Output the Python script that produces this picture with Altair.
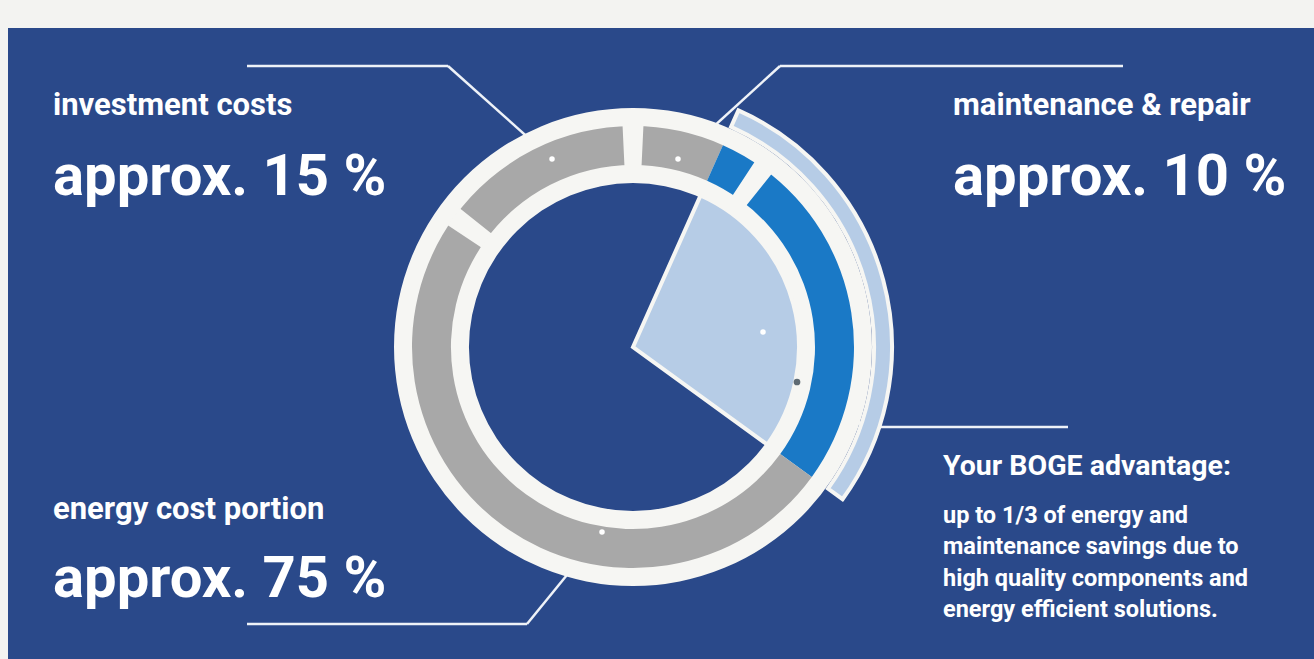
import math
import altair as alt
import pandas as pd

# ---------------- data ----------------
seg_category = ["maintenance & repair", "maintenance & repair",
                "energy cost portion", "energy cost portion", "investment costs"]
seg_part = ["remaining", "saving", "saving", "remaining", "remaining"]
seg_value = [6.67, 3.33, 25.0, 50.0, 15.0]          # percent of life-cycle costs

category_order = ["maintenance & repair", "energy cost portion", "investment costs"]
category_share = [10, 75, 15]

headline_labels = ["investment costs", "maintenance & repair", "energy cost portion"]
headline_values = ["approx. 15 %", "approx. 10 %", "approx. 75 %"]
advantage_title = "Your BOGE advantage:"
advantage_lines = ["up to 1/3 of energy and",
                   "maintenance savings due to",
                   "high quality components and",
                   "energy efficient solutions."]

# ---------------- layout / style ----------------
CX, CY = 633, 347
R_WHITE_OUT, R_SEG_OUT, R_SEG_IN, R_WHITE_IN = 239, 220, 183, 164
R_ARC_IN, R_ARC_OUT = 241, 259
GAP_HALF = 0.75
PANEL = "#2a498a"
WHITE = "#f6f6f3"
GRAY = "#a8a8a8"
BLUE = "#1a79c6"
LIGHT = "#b6cce6"
FONT = "Roboto"

head_label_xy = [(53, 115), (953, 115), (53, 519)]
head_value_xy = [(53, 195), (953, 195), (53, 597)]
adv_title_xy = (943, 475)
adv_line_x, adv_line_y0, adv_line_dy = 943, 523, 31.3

leader_segments = [  # x, y, x2, y2
    (247, 66, 448, 66), (448, 66, 552, 159),
    (1123, 66, 780, 66), (780, 66, 678, 159),
    (247, 624, 527, 624), (527, 624, 602, 532),
    (1068, 427, 864, 427), (864, 427, 763, 332),
]
leader_dots = [(552, 159), (678, 159), (602, 532), (763, 332)]
marker_dot = (797, 382)

# ---------------- tables ----------------
seg_df = pd.DataFrame({"category": seg_category, "part": seg_part, "value": seg_value})
seg_df["end"] = seg_df["value"].cumsum()
seg_df["start"] = seg_df["end"] - seg_df["value"]

bounds = [0] + list(pd.Series(category_share).cumsum()[:-1])
gap_df = pd.DataFrame({"start": [b - GAP_HALF for b in bounds], "end": [b + GAP_HALF for b in bounds]})

sav = seg_df[seg_df["part"] == "saving"]
wedge_df = pd.DataFrame({"start": [sav["start"].min()], "end": [sav["end"].max()]})
ring_df = pd.DataFrame({"start": [0], "end": [100]})

theta_scale = alt.Scale(domain=[0, 100], range=[0, 2 * math.pi])


def arc_layer(df, r_out, r_in, **mark):
    return alt.Chart(df).mark_arc(**mark).encode(
        theta=alt.Theta("start:Q", scale=theta_scale, stack=None),
        theta2="end:Q",
        x=alt.value(CX), y=alt.value(CY),
        radius=alt.value(r_out), radius2=alt.value(r_in),
    )


panel = alt.Chart(pd.DataFrame({"k": [0]})).mark_rect(color=PANEL).encode(
    x=alt.value(8), x2=alt.value(1314), y=alt.value(28), y2=alt.value(659))

ring = arc_layer(ring_df, R_WHITE_OUT, R_WHITE_IN, color=WHITE)
segs = alt.Chart(seg_df).mark_arc().encode(
    theta=alt.Theta("start:Q", scale=theta_scale, stack=None),
    theta2="end:Q",
    color=alt.Color("part:N", scale=alt.Scale(domain=["remaining", "saving"], range=[GRAY, BLUE]), legend=None),
    x=alt.value(CX), y=alt.value(CY),
    radius=alt.value(R_SEG_OUT + 1), radius2=alt.value(R_SEG_IN - 1),
)
gaps = arc_layer(gap_df, R_SEG_OUT + 2, R_SEG_IN - 2, color=WHITE)
wedge = arc_layer(wedge_df, R_WHITE_IN + 2, 0, color=LIGHT, stroke=WHITE, strokeWidth=4)
outer = arc_layer(wedge_df, R_ARC_OUT, R_ARC_IN, color=LIGHT, stroke=WHITE, strokeWidth=4)

lead_df = pd.DataFrame(leader_segments, columns=["x", "y", "x2", "y2"])
leaders = alt.Chart(lead_df).mark_rule(color="#eef2f8", strokeWidth=2.5).encode(
    x=alt.X("x:Q", scale=None), y=alt.Y("y:Q", scale=None),
    x2="x2:Q", y2="y2:Q")
dots_df = pd.DataFrame(leader_dots, columns=["x", "y"])
dots = alt.Chart(dots_df).mark_circle(color="#ffffff", size=30, opacity=1).encode(
    x=alt.X("x:Q", scale=None), y=alt.Y("y:Q", scale=None))
mdot = alt.Chart(pd.DataFrame({"x": [marker_dot[0]], "y": [marker_dot[1]]})).mark_circle(
    color="#5f6b73", size=45, opacity=1).encode(
    x=alt.X("x:Q", scale=None), y=alt.Y("y:Q", scale=None))

lab_df = pd.DataFrame({"text": headline_labels,
                       "x": [p[0] for p in head_label_xy], "y": [p[1] for p in head_label_xy]})
val_df = pd.DataFrame({"text": headline_values,
                       "x": [p[0] for p in head_value_xy], "y": [p[1] for p in head_value_xy]})
adv_df = pd.DataFrame({"text": advantage_lines,
                       "x": [adv_line_x] * len(advantage_lines),
                       "y": [adv_line_y0 + i * adv_line_dy for i in range(len(advantage_lines))]})
advt_df = pd.DataFrame({"text": [advantage_title], "x": [adv_title_xy[0]], "y": [adv_title_xy[1]]})


def text_layer(df, size):
    return alt.Chart(df).mark_text(align="left", baseline="alphabetic", font=FONT,
                                   fontWeight="bold", fontSize=size, color="#ffffff").encode(
        x=alt.X("x:Q", scale=None), y=alt.Y("y:Q", scale=None), text="text:N")


chart = alt.layer(
    panel, leaders, ring, segs, gaps, wedge, outer, mdot, dots,
    text_layer(lab_df, 31), text_layer(val_df, 58),
    text_layer(advt_df, 28.5), text_layer(adv_df, 23.5),
).properties(
    width=1314, height=659, background="#f3f3f1", padding=0, autosize="none"
).configure_view(stroke=None)

chart.save("out.html", embed_options={"renderer": "svg", "actions": False})
